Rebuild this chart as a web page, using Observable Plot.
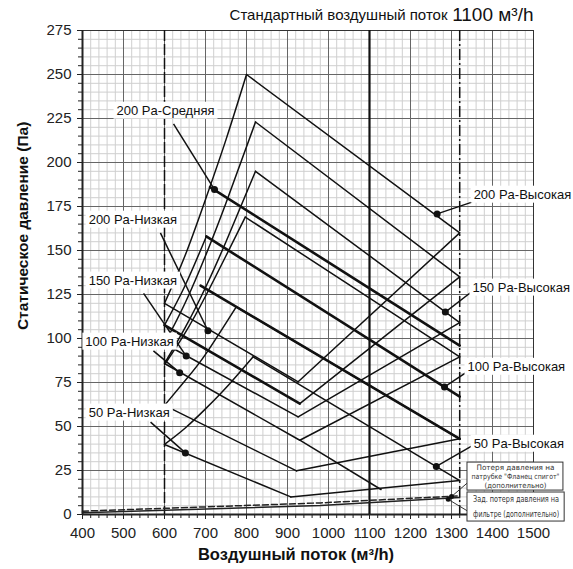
<!DOCTYPE html>
<html><head><meta charset="utf-8">
<script src="https://cdn.jsdelivr.net/npm/d3@7"></script>
<script src="https://cdn.jsdelivr.net/npm/@observablehq/plot@0.6"></script>
<style>body{margin:0;background:#fff;font-family:Arial,"Liberation Sans",sans-serif}</style>
</head><body><div id="chart"></div>
<script>
const xTicks = [400,500,600,700,800,900,1000,1100,1200,1300,1400,1500];
const yTicks = [0,25,50,75,100,125,150,175,200,225,250,275];
const xMinor = d3.range(400,1501,20);
const yMinor = d3.range(0,276,5);

// rising (left) edges
const leftEdges = [
  {id:"L1", pts:[[600,120],[650,147],[700,179],[750,213],[800,250]]},
  {id:"L2", pts:[[600,97],[650,120],[700,147],[750,177],[822,223]]},
  {id:"L3", pts:[[600,85.8],[650,106],[700,129],[750,155],[822,195]]},
  {id:"L4", pts:[[600,85],[650,103],[700,124],[750,147],[797,169]]},
  {id:"L5", pts:[[600,62],[650,76],[700,91],[775,118]]},
  {id:"L6", pts:[[600,39.8],[650,49],[700,60],[750,72],[816,89.6]]},
  {id:"L7", pts:[[600,107.6],[650,130],[702,158]]}
];
// descending fan lines from the peaks
const topLines = [
  {id:"T1", pts:[[800,250],[1320,160]]},
  {id:"T2", pts:[[822,223],[1320,135]]},
  {id:"T3", pts:[[822,195],[1320,109]]},
  {id:"T4", pts:[[797,169],[1320,89.6]]},
  {id:"T5", pts:[[775,118],[1320,43]]},
  {id:"T6", pts:[[816,89.6],[1320,19.3]]}
];
// lower descending lines from the dashed 600 line
const lowLines = [
  {id:"B1", pts:[[600,120],[926,75.4]]},
  {id:"B2", pts:[[600,97],[926,55.5]]},
  {id:"B3", pts:[[600,85.8],[930,42.2],[1128,14.2]]},
  {id:"B5", pts:[[600,62],[922,24.8]]},
  {id:"B6", pts:[[600,39.8],[908,10]]}
];
// rising right edges
const rightEdges = [
  {id:"R1", pts:[[926,75.4],[1320,160]]},
  {id:"R2", pts:[[930,63],[1320,135]]},
  {id:"R3", pts:[[926,55.5],[1320,109]]},
  {id:"R4", pts:[[930,42.2],[1320,89.6]]},
  {id:"R5", pts:[[922,24.8],[1320,43]]},
  {id:"R6", pts:[[908,10],[1320,19.3]]}
];
// thick (medium) lines
const mediumLines = [
  {id:"M1", pts:[[711,186],[1320,96]]},
  {id:"M2", pts:[[702,158],[1320,67]]},
  {id:"M3", pts:[[688,130],[1320,43]]},
  {id:"M4", pts:[[600,107.6],[930,63]]}
];
const spigotLoss = [[400,1],[980,5.1],[1320,9.6]];
const filterLoss = [[400,1.9],[980,6.6],[1320,10.6]];

const leftLabels = [
  {t:"200 Pa-Средняя", x:483, y:229.5, px:622, py:222, dx:722, dy:184.6},
  {t:"200 Pa-Низкая", x:415, y:167.6, px:590, py:160, dx:706, dy:104.4},
  {t:"150 Pa-Низкая", x:415, y:133, px:549, py:125.6, dx:653, dy:90},
  {t:"100 Pa-Низкая", x:407, y:98.3, px:573, py:93, dx:637, dy:80.6},
  {t:"50 Pa-Низкая",  x:415, y:58, px:566, py:52.5, dx:651, dy:35}
];
const rightLabels = [
  {t:"200 Pa-Высокая", x:1354, y:181.8, px:1350, py:177.5, dx:1265, dy:170.8},
  {t:"150 Pa-Высокая", x:1351, y:129, px:1346, py:126, dx:1285, dy:115},
  {t:"100 Pa-Высокая", x:1339, y:84, px:1338, py:81, dx:1283, dy:72.5},
  {t:"50 Pa-Высокая",  x:1354, y:40.3, px:1350, py:39, dx:1263, dy:27.3}
];
const boxes = [
  {x1:1339, x2:1573, y1:13.6, y2:29.5, lines:["Потеря давления на","патрубке \"Фланец спигот\"","(дополнительно)"], fs:7.4, tl:[78,88,62], px:1339, py:18, dx:1300, dy:10.2},
  {x1:1339, x2:1576, y1:-4, y2:12.5, lines:["Зад. потеря давления на","фильтре (дополнительно)"], fs:8.2, tl:[86,86], px:1339, py:2, dx:1292, dy:8.6}
];
const yTitle = [{t:"Статическое давление (Па)", x:254, y:164}];

function flat(list){ return list.flatMap(s => s.pts.map(p => ({id:s.id, x:p[0], y:p[1]}))); }
const boxText = boxes.flatMap(b => b.lines.map((l,i) => ({t:l, tl:b.tl[i], x:(b.x1+b.x2)/2, y:b.y2 - (b.y2-b.y1)*(i+0.5)/b.lines.length, fs:b.fs})));
const narrow = "'Liberation Sans Narrow','Arial Narrow','DejaVu Sans Condensed',sans-serif";

const chart = Plot.plot({
  width:573, height:569, marginLeft:82, marginRight:40, marginTop:30, marginBottom:55,
  x:{domain:[400,1500]}, y:{domain:[0,275]},
  style:{fontFamily:"Arial, 'Liberation Sans', sans-serif", fontSize:"15px", color:"#222", background:"#fff", overflow:"visible"},
  marks:[
    Plot.gridX(xMinor,{stroke:"#cfcfcf", strokeOpacity:1}),
    Plot.gridY(yMinor,{stroke:"#cfcfcf", strokeOpacity:1}),
    Plot.gridX(xTicks,{stroke:"#666", strokeOpacity:1}),
    Plot.gridY(yTicks,{stroke:"#666", strokeOpacity:1}),
    Plot.frame({stroke:"#333"}),
    Plot.axisX(xMinor,{tickSize:4, tickFormat:()=>"", label:null, stroke:"#222"}),
    Plot.axisY(yMinor,{tickSize:4, tickFormat:()=>"", label:null, stroke:"#222"}),
    Plot.axisX(xTicks,{tickSize:5, tickPadding:8, label:null, fontSize:15, stroke:"#222", tickFormat:d3.format("d")}),
    Plot.axisY(yTicks,{tickSize:5, tickPadding:6, label:null, fontSize:15, stroke:"#222", tickFormat:d3.format("d")}),
    Plot.ruleY([0],{stroke:"#222", strokeWidth:2}),
    Plot.ruleX([400],{stroke:"#222", strokeWidth:2}),
    Plot.ruleX([600],{stroke:"#111", strokeWidth:1.5, strokeDasharray:"11,3"}),
    Plot.ruleX([1100],{stroke:"#111", strokeWidth:2.2}),
    Plot.ruleX([1320],{stroke:"#111", strokeWidth:1.5, strokeDasharray:"11,3,2,3"}),
    Plot.line(spigotLoss.map(p=>({x:p[0],y:p[1]})),{x:"x",y:"y",stroke:"#222",strokeWidth:1.5}),
    Plot.line(filterLoss.map(p=>({x:p[0],y:p[1]})),{x:"x",y:"y",stroke:"#222",strokeWidth:1.5,strokeDasharray:"6,3"}),
    Plot.line(flat(leftEdges),{x:"x",y:"y",z:"id",curve:"natural",stroke:"#111",strokeWidth:1.5}),
    Plot.line(flat(topLines),{x:"x",y:"y",z:"id",stroke:"#111",strokeWidth:1.5}),
    Plot.line(flat(rightEdges),{x:"x",y:"y",z:"id",stroke:"#111",strokeWidth:1.5}),
    Plot.line(flat(lowLines),{x:"x",y:"y",z:"id",stroke:"#111",strokeWidth:1.5}),
    Plot.line(flat(mediumLines),{x:"x",y:"y",z:"id",stroke:"#111",strokeWidth:2.6}),
    Plot.link(leftLabels.concat(rightLabels),{x1:"px",y1:"py",x2:"dx",y2:"dy",stroke:"#111",strokeWidth:1.5}),
    Plot.dot(leftLabels.concat(rightLabels),{x:"dx",y:"dy",r:3.5,fill:"#111"}),
    Plot.text(leftLabels,{x:"x",y:"y",text:"t",textAnchor:"start",fontSize:13,fill:"#111"}),
    Plot.text(rightLabels,{x:"x",y:"y",text:"t",textAnchor:"start",fontSize:13,fill:"#111"}),
    Plot.link(boxes,{x1:"px",y1:"py",x2:"dx",y2:"dy",stroke:"#333",strokeWidth:1}),
    Plot.dot(boxes,{x:"dx",y:"dy",r:2.5,fill:"#111"}),
    Plot.rect(boxes,{x1:"x1",x2:"x2",y1:"y1",y2:"y2",fill:"white",stroke:"#333",strokeWidth:1}),
    Plot.text(boxText,{x:"x",y:"y",text:"t",fontSize:d=>d.fs,fill:"#333",fontFamily:narrow}),
    Plot.text(["1100 м³/h"],{frameAnchor:"top-right",textAnchor:"end",lineAnchor:"bottom",dy:-10,fontSize:19,fill:"#111"}),
    Plot.text(["Стандартный воздушный поток"],{frameAnchor:"top-right",textAnchor:"end",lineAnchor:"bottom",dy:-11,dx:-86,fontSize:15,fill:"#111"}),
    Plot.text(["Воздушный поток (м³/h)"],{frameAnchor:"bottom",lineAnchor:"top",dy:34,dx:-12,fontSize:16.5,fontWeight:"bold",fill:"#111"}),
    Plot.text(yTitle,{x:"x",y:"y",text:"t",rotate:-90,fontSize:15.5,fontWeight:"bold",fill:"#111"})
  ]
});
document.getElementById("chart").append(chart);
// white panels behind the curve labels, fit the box captions
const labelSet = new Set(leftLabels.concat(rightLabels).map(d => d.t));
const boxLen = new Map(boxText.map(d => [d.t, d.tl]));
chart.querySelectorAll("text").forEach(t => {
  if (labelSet.has(t.textContent)) {
    const bb = t.getBBox();
    const r = document.createElementNS("http://www.w3.org/2000/svg","rect");
    r.setAttribute("x", bb.x - 3); r.setAttribute("y", bb.y - 1);
    r.setAttribute("width", bb.width + 6); r.setAttribute("height", bb.height + 2);
    r.setAttribute("fill", "white");
    const tr = t.getAttribute("transform"); if (tr) r.setAttribute("transform", tr);
    t.parentNode.insertBefore(r, t);
  }
  if (boxLen.has(t.textContent)) {
    t.setAttribute("textLength", boxLen.get(t.textContent));
    t.setAttribute("lengthAdjust", "spacingAndGlyphs");
  }
});
</script></body></html>
